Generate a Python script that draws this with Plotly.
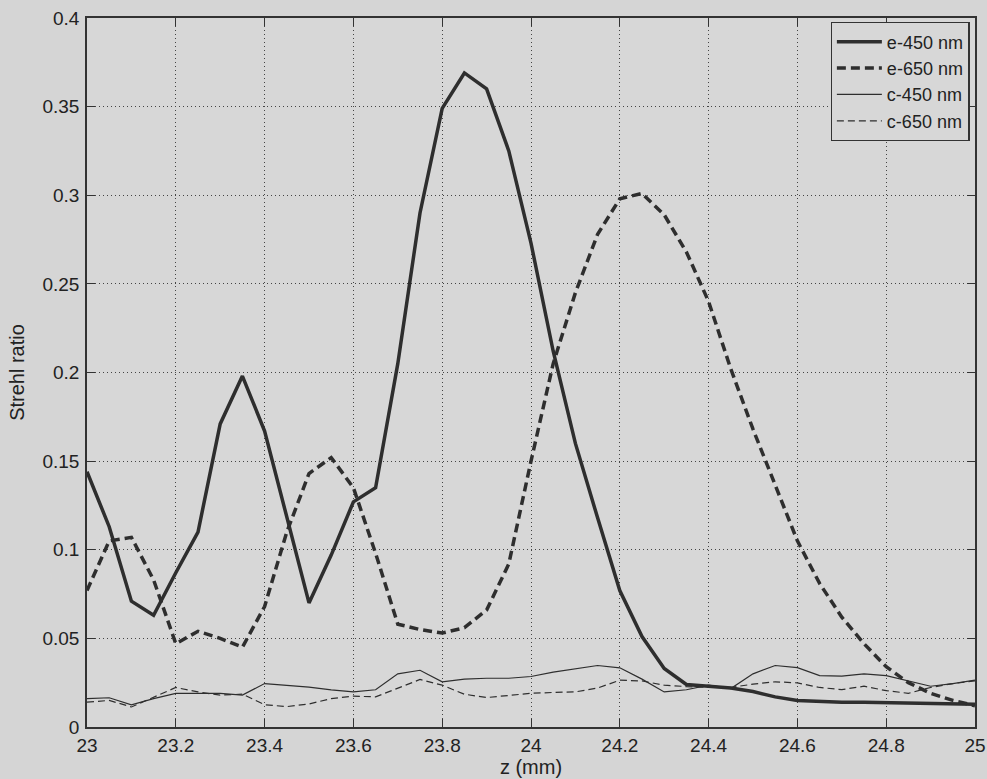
import plotly.graph_objects as go

z = [round(23 + 0.05 * i, 2) for i in range(41)]

e450 = [0.144, 0.113, 0.071, 0.063, 0.087, 0.110, 0.171, 0.198, 0.167, 0.118,
        0.070, 0.097, 0.127, 0.135, 0.205, 0.290, 0.349, 0.369, 0.360, 0.325,
        0.273, 0.212, 0.160, 0.118, 0.077, 0.051, 0.033, 0.024, 0.023, 0.022,
        0.020, 0.017, 0.015, 0.0145, 0.014, 0.014, 0.0137, 0.0135, 0.0132, 0.013, 0.0128]

e650 = [0.077, 0.105, 0.107, 0.083, 0.047, 0.054, 0.050, 0.045, 0.068, 0.110,
        0.143, 0.152, 0.135, 0.098, 0.058, 0.055, 0.053, 0.056, 0.066, 0.092,
        0.150, 0.205, 0.245, 0.278, 0.298, 0.301, 0.289, 0.268, 0.240, 0.202,
        0.168, 0.137, 0.105, 0.081, 0.062, 0.047, 0.034, 0.025, 0.019, 0.015, 0.012]

c450 = [0.016, 0.0165, 0.0125, 0.016, 0.019, 0.019, 0.019, 0.018, 0.0245, 0.0235,
        0.0225, 0.021, 0.0198, 0.021, 0.030, 0.032, 0.0255, 0.027, 0.0275, 0.0275,
        0.0285, 0.031, 0.033, 0.0347, 0.0334, 0.027, 0.0198, 0.021, 0.0236, 0.0217,
        0.030, 0.0347, 0.0335, 0.029, 0.0287, 0.030, 0.029, 0.026, 0.023, 0.0245, 0.0264]

c650 = [0.014, 0.015, 0.0113, 0.017, 0.0223, 0.0198, 0.018, 0.0185, 0.0126, 0.0115,
        0.013, 0.016, 0.0174, 0.017, 0.022, 0.0268, 0.0236, 0.0185, 0.0166, 0.018,
        0.019, 0.0195, 0.0198, 0.022, 0.0264, 0.026, 0.0236, 0.0228, 0.0223, 0.0223,
        0.0242, 0.0255, 0.0249, 0.0223, 0.0211, 0.023, 0.0205, 0.019, 0.0223, 0.0245, 0.026]

names = ["e-450 nm", "e-650 nm", "c-450 nm", "c-650 nm"]
xticks = [23, 23.2, 23.4, 23.6, 23.8, 24, 24.2, 24.4, 24.6, 24.8, 25]
xticklabels = ["23", "23.2", "23.4", "23.6", "23.8", "24", "24.2", "24.4", "24.6", "24.8", "25"]
yticks = [0, 0.05, 0.1, 0.15, 0.2, 0.25, 0.3, 0.35, 0.4]
yticklabels = ["0", "0.05", "0.1", "0.15", "0.2", "0.25", "0.3", "0.35", "0.4"]

ink = "#2e2e2e"
fig = go.Figure()
fig.add_trace(go.Scatter(x=z, y=e450, mode="lines", name=names[0],
                         line=dict(color=ink, width=3.5)))
fig.add_trace(go.Scatter(x=z, y=e650, mode="lines", name=names[1],
                         line=dict(color=ink, width=3.5, dash="9px,5px")))
fig.add_trace(go.Scatter(x=z, y=c450, mode="lines", name=names[2],
                         line=dict(color=ink, width=1.2)))
fig.add_trace(go.Scatter(x=z, y=c650, mode="lines", name=names[3],
                         line=dict(color=ink, width=1.2, dash="7px,4px")))

title_font = dict(family="Liberation Sans, Arial", size=20, color="#222222")

axis_common = dict(showline=True, linecolor="#333333", linewidth=1.5, mirror="ticks",
                   ticks="inside", ticklen=8, tickcolor="#333333",
                   showgrid=True, gridcolor="#444444", griddash="1px,3px", gridwidth=1,
                   zeroline=False, automargin=False,
                   tickfont=dict(family="Liberation Sans, Arial", size=19, color="#222222"))

fig.update_layout(
    width=987, height=779,
    margin=dict(l=87, r=12, t=18, b=52),
    paper_bgcolor="#d5d5d5", plot_bgcolor="#d7d7d7",
    font=dict(family="Liberation Sans, Arial", size=18, color="#222222"),
    legend=dict(x=0.994, y=0.994, xanchor="right", yanchor="top",
                bgcolor="#d7d7d7", bordercolor="#333333", borderwidth=1.2,
                font=dict(size=18, color="#222222"), tracegroupgap=0, itemwidth=45),
    showlegend=True,
)
fig.update_xaxes(range=[23, 25], tickvals=xticks, ticktext=xticklabels, ticklabelstandoff=0,
                 title_text="z (mm)", title_font=title_font, title_standoff=3, **axis_common)
fig.update_yaxes(range=[0, 0.4], tickvals=yticks, ticktext=yticklabels, ticklabelstandoff=2,
                 title_text="Strehl ratio", title_font=title_font, title_standoff=12, **axis_common)

fig.write_html("out.html")
